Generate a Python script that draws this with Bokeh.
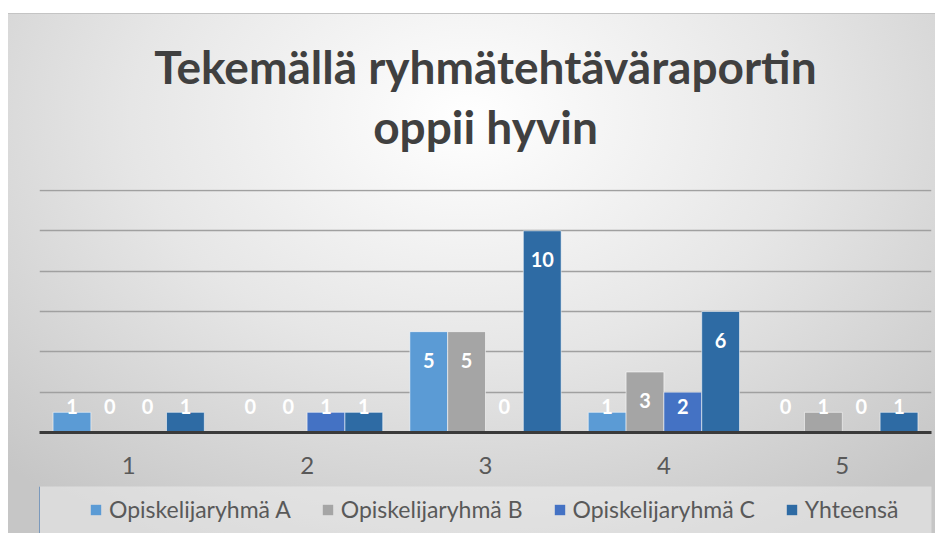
from bokeh.plotting import figure
from bokeh.layouts import column
from bokeh.models import (ColumnDataSource, FactorRange, Range1d, FixedTicker,
                          Legend, LegendItem, Title)
from bokeh.transform import dodge
from bokeh.core.properties import value
from bokeh.embed import file_html
from bokeh.resources import INLINE

# ---- data ----
categories = ["1", "2", "3", "4", "5"]
series_names = ["Opiskelijaryhmä A", "Opiskelijaryhmä B", "Opiskelijaryhmä C", "Yhteensä"]
group_a = [1, 0, 5, 1, 0]
group_b = [0, 0, 5, 3, 1]
group_c = [0, 1, 0, 2, 0]
total = [1, 1, 10, 6, 1]
grid_ticks = [2, 4, 6, 8, 10, 12]

title_line1 = "Tekemällä ryhmätehtäväraportin"
title_line2 = "oppii hyvin"

colors = ["#5B9BD5", "#A5A5A5", "#4472C4", "#2E6BA4"]
offsets = [-0.318, -0.106, 0.106, 0.318]
bar_w = 0.212

FONT = "Lato"

def label_y(v):
    return max(v - 1.43, 1.28)

data = dict(cat=categories)
series = [group_a, group_b, group_c, total]
keys = ["a", "b", "c", "t"]
for k, s in zip(keys, series):
    data[k] = s
    data[k + "_ly"] = [label_y(v) for v in s]
    data[k + "_txt"] = [str(v) for v in s]
source = ColumnDataSource(data)

W = 935
p = figure(width=W, height=486, x_range=FactorRange(factors=categories),
           y_range=Range1d(0, 12.05), output_backend="svg", toolbar_location=None,
           min_border_left=39, min_border_right=4, min_border_top=189,
           min_border_bottom=54)
p.title.visible = False
p.background_fill_alpha = 0
p.border_fill_alpha = 0
p.outline_line_color = None

# titles: spacer nearest the frame, then line 2, then line 1
spacer = Title(text=" ", text_font_size="1px", standoff=30)
t2 = Title(text=title_line2, align="center", text_font=FONT, text_font_style="bold",
           text_font_size="46px", text_color="#404040", standoff=6)
t1 = Title(text=title_line1, align="center", text_font=FONT, text_font_style="bold",
           text_font_size="46px", text_color="#404040", standoff=0)
p.add_layout(spacer, "above")
p.add_layout(t2, "above")
p.add_layout(t1, "above")

# grid
p.xgrid.visible = False
p.ygrid.ticker = FixedTicker(ticks=grid_ticks)
p.ygrid.grid_line_color = "#a0a0a0"
p.ygrid.grid_line_width = 1.6
p.yaxis.visible = False

# x axis
p.xaxis.axis_line_color = "#3a3a3a"
p.xaxis.axis_line_width = 3
p.xaxis.major_tick_line_color = None
p.xaxis.minor_tick_line_color = None
p.xaxis.major_label_text_font = FONT
p.xaxis.major_label_text_font_size = "24px"
p.xaxis.major_label_text_color = "#595959"
p.xaxis.major_label_standoff = 18

for k, off, col in zip(keys, offsets, colors):
    p.vbar(x=dodge("cat", off, range=p.x_range), top=k, width=bar_w, bottom=0,
           source=source, fill_color=col, line_color="#ffffff", line_alpha=0.55,
           line_width=1)
    p.text(x=dodge("cat", off, range=p.x_range), y=k + "_ly", text=k + "_txt",
           source=source, text_align="center", text_baseline="middle",
           text_color="#ffffff", text_font=value(FONT), text_font_style="bold",
           text_font_size="20px")

# legend strip below the chart
lg = figure(width=W, height=47, x_range=(0, 1), y_range=(0, 1),
            x_axis_type=None, y_axis_type=None, output_backend="svg",
            toolbar_location=None, min_border=0)
lg.title.visible = False
lg.grid.visible = False
lg.background_fill_color = "#f4f4f4"
lg.background_fill_alpha = 0.45
lg.border_fill_alpha = 0
lg.outline_line_color = None
# swatch renderers for the legend (kept outside the visible range)
legend_renderers = [lg.vbar(x=[-5], top=[1], width=0.1, fill_color=c, line_color=None)
                    for c in colors]
legend = Legend(items=[LegendItem(label=n, renderers=[r])
                       for n, r in zip(series_names, legend_renderers)],
                orientation="horizontal", location=(40, 0),
                label_text_font=FONT, label_text_font_size="23px",
                label_text_color="#595959", glyph_width=13, glyph_height=13,
                label_standoff=7, spacing=30, padding=10, margin=0,
                background_fill_alpha=0, border_line_alpha=0)
lg.add_layout(legend)

layout = column(p, lg, spacing=0)
layout.styles = {
    "background": ("linear-gradient(#ffffff,#ffffff) 0 0 / 100% 13px no-repeat, "
                   "linear-gradient(#ffffff,#ffffff) 0 0 / 8px 100% no-repeat, "
                   "linear-gradient(#c4c4c4,#c4c4c4) 0 13px / 100% 1px no-repeat, "
                   "radial-gradient(ellipse 72% 90% at 50% 22%, #ffffff 0%, #e6e6e6 50%, #c6c6c6 100%)")
}

open("out.html", "w").write(file_html(layout, INLINE))
